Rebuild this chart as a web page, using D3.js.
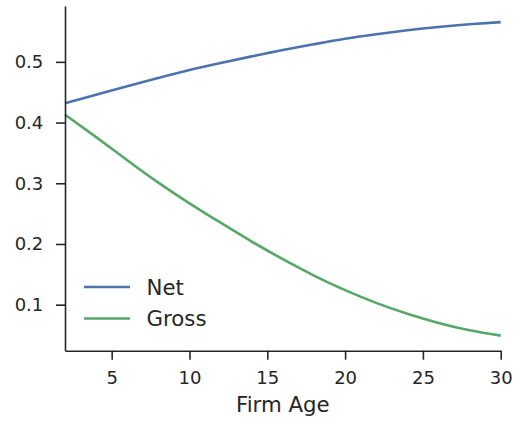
<!DOCTYPE html>
<html>
<head>
<meta charset="utf-8">
<script src="https://cdn.jsdelivr.net/npm/d3@7/dist/d3.min.js"></script>
<style>
  html, body { margin: 0; padding: 0; background: #fff; }
  svg { display: block; font-family: "DejaVu Sans", sans-serif; }
</style>
</head>
<body>
<svg id="chart" width="515" height="421"></svg>
<script>
// ---- data ----
const firmAge = [2, 4, 6, 8, 10, 12, 14, 16, 18, 20, 22, 24, 26, 28, 30];
const netValues = [0.432, 0.446, 0.460, 0.4735, 0.4865, 0.498, 0.509, 0.5195, 0.529, 0.538, 0.5455, 0.552, 0.5575, 0.562, 0.5655];
const grossValues = [0.413, 0.376, 0.338, 0.301, 0.267, 0.235, 0.204, 0.175, 0.148, 0.124, 0.103, 0.085, 0.070, 0.058, 0.049];
const seriesNames = ["Net", "Gross"];
const xTicks = [5, 10, 15, 20, 25, 30];
const yTicks = [0.1, 0.2, 0.3, 0.4, 0.5];
const xLabel = "Firm Age";

const colors = {"Net": "#4C72B0", "Gross": "#55A868"};
const series = [
  {name: seriesNames[0], values: netValues},
  {name: seriesNames[1], values: grossValues}
];

const svg = d3.select("#chart");
const mLeft = 65, mRight = 500.7, mTop = 6, mBottom = 350.7;
const textColor = "#262626";

const x = d3.scaleLinear().domain([2, 30]).range([mLeft, mRight]);
const y = d3.scaleLinear().domain([0.0242, 0.592]).range([mBottom, mTop]);

// lines
const line = d3.line()
  .x((d, i) => x(firmAge[i]))
  .y(d => y(d))
  .curve(d3.curveNatural);

svg.append("g").selectAll("path")
  .data(series)
  .join("path")
  .attr("d", d => line(d.values))
  .attr("fill", "none")
  .attr("stroke", d => colors[d.name])
  .attr("stroke-width", 2.6)
  .attr("stroke-linecap", "butt");

// axes
const xAxis = d3.axisBottom(x).tickValues(xTicks).tickFormat(d3.format("d"))
  .tickSize(9).tickPadding(11.5).tickSizeOuter(0);
const yAxis = d3.axisLeft(y).tickValues(yTicks).tickFormat(d3.format(".1f"))
  .tickSize(9).tickPadding(12.7).tickSizeOuter(0);

const gx = svg.append("g").attr("transform", `translate(0,${mBottom})`).call(xAxis);
const gy = svg.append("g").attr("transform", `translate(${mLeft},0)`).call(yAxis);

[gx, gy].forEach(g => {
  g.select(".domain").attr("stroke", textColor).attr("stroke-width", 1.6);
  g.selectAll(".tick line").attr("stroke", textColor).attr("stroke-width", 1.6);
  g.selectAll(".tick text").attr("fill", textColor)
    .style("font-family", "DejaVu Sans").style("font-size", "18px");
});

// x axis label
svg.append("text")
  .attr("x", (mLeft + mRight) / 2)
  .attr("y", 411.5)
  .attr("text-anchor", "middle")
  .attr("fill", textColor)
  .style("font-size", "21.3px")
  .text(xLabel);

// legend
const legend = svg.append("g");
const legendY = [287, 318.5];
series.forEach((s, i) => {
  legend.append("line")
    .attr("x1", 84).attr("x2", 130)
    .attr("y1", legendY[i]).attr("y2", legendY[i])
    .attr("stroke", colors[s.name])
    .attr("stroke-width", 2.6);
  legend.append("text")
    .attr("x", 146.5)
    .attr("y", legendY[i] + 7.6)
    .attr("fill", textColor)
    .style("font-size", "21.3px")
    .text(s.name);
});
</script>
</body>
</html>
